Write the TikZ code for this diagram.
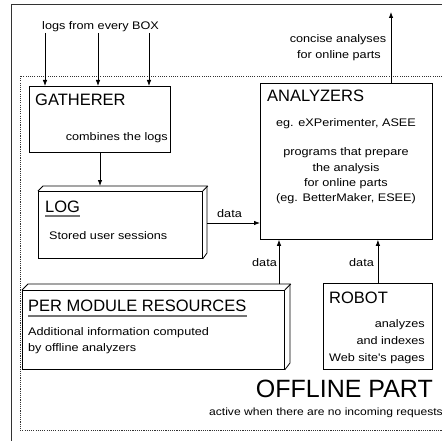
\documentclass[tikz,border=0pt]{standalone}
\usepackage{fontspec}
\setmainfont{Liberation Sans}
\newfontfamily\widesf[FakeStretch=1.15]{Liberation Sans}
\usetikzlibrary{arrows.meta}
\tikzset{
  box/.style={draw, line width=0.8pt, rectangle, anchor=north west, inner sep=0pt},
  small/.style={font=\widesf\fontsize{11}{14}\selectfont, inner sep=0pt},
  note/.style={font=\widesf\fontsize{10.5}{13}\selectfont, inner sep=0pt},
  title/.style={font=\fontsize{16.5}{18}\selectfont, inner sep=0pt},
  huge/.style={font=\fontsize{25}{28}\selectfont, inner sep=0pt},
  flow/.style={line width=0.8pt, -{Latex[length=6pt,width=4.5pt]}},
  uline/.style={draw=black!55, line width=1.2pt},
  frame/.style={draw=black!80, line width=0.9pt},
  zone/.style={draw=black!80, line width=0.9pt, dash pattern=on 1.1pt off 1.1pt},
}
\begin{document}
\begin{tikzpicture}[x=1pt, y=-1pt]
\useasboundingbox (0,0) rectangle (441,441);

% outer frame and offline zone
\draw[frame] (11,4) rectangle (480,480);
\draw[zone] (20,76) rectangle (480,430);

% boxes
\node[box, minimum width=141pt, minimum height=66pt] (gat) at (29,86) {};
\node[box, minimum width=164pt, minimum height=67pt] (log) at (38,191) {};
\node[box, minimum width=172pt, minimum height=156pt] (an) at (260,83) {};
\node[box, minimum width=262pt, minimum height=79pt] (per) at (22,290) {};
\node[box, minimum width=109pt, minimum height=86pt] (rob) at (323,283) {};

% depth faces of the storage boxes
\draw[line width=0.8pt] (log.north west) -- ++(5,-5) -- ++(164,0) -- ++(0,67) -- (log.south east);
\draw[line width=0.8pt] (log.north east) -- ++(5,-5);
\draw[line width=0.8pt] (per.north west) -- ++(6,-6) -- ++(262,0) -- ++(0,79) -- (per.south east);
\draw[line width=0.8pt] (per.north east) -- ++(6,-6);

% texts
\node[small, anchor=base west] (srcs) at (42,30) {logs from every BOX};
\node[title, anchor=base west] (gatT) at (35,106) {GATHERER};
\node[small, anchor=base east] (gatS) at (168,140) {combines the logs};

\node[title, anchor=base west] (logT) at (45,212) {LOG};
\draw[uline] ([yshift=-4pt]logT.base west) -- ([yshift=-4pt]logT.base east);
\node[small, anchor=base west] (logS) at (49,239) {Stored user sessions};

\node[title, anchor=base west] (anT) at (267,102) {ANALYZERS};
\node[small, anchor=base] (anS) at (346,126) {eg. eXPerimenter, ASEE};
\node[small, anchor=base] (anD1) at (346,155) {programs that prepare};
\node[small, anchor=base] (anD2) at (346,171) {the analysis};
\node[small, anchor=base] (anD3) at (346,186) {for online parts};
\node[small, anchor=base] (anD4) at (346,201.5) {(eg. BetterMaker, ESEE)};

\node[small, anchor=base] (out1) at (338,43) {concise analyses};
\node[small, anchor=base] (out2) at (339,59) {for online parts};

\node[title, anchor=base west] (perT) at (28,311) {PER MODULE RESOURCES};
\draw[uline] ([yshift=-5pt]perT.base west) -- ([yshift=-5pt]perT.base east);
\node[small, anchor=base west] (perS1) at (28,335) {Additional information computed};
\node[small, anchor=base west] (perS2) at (28,351.5) {by offline analyzers};

\node[title, anchor=base west] (robT) at (329,303) {ROBOT};
\node[small, anchor=base east] (rob1) at (425,327) {analyzes};
\node[small, anchor=base east] (rob2) at (425,344) {and indexes};
\node[small, anchor=base east] (rob3) at (425,361) {Web site's pages};

\node[huge, anchor=base east] (off) at (433,397) {OFFLINE PART};
\node[note, anchor=base west] (act) at (209,415) {active when there are no incoming requests};

\node[small, anchor=base west] (d1) at (217,217) {data};
\node[small, anchor=base west] (d2) at (252,266) {data};
\node[small, anchor=base west] (d3) at (349,266) {data};

% connectors
\coordinate (t1) at (45,33);
\coordinate (t2) at (98,33);
\coordinate (t3) at (149,33);
\draw[flow] (t1) -- (t1 |- gat.north);
\draw[flow] (t2) -- (t2 |- gat.north);
\draw[flow] (t3) -- (t3 |- gat.north);

\coordinate (logtop) at (100,186);
\draw[flow] (gat.south -| logtop) -- (logtop);

\coordinate (logR) at (207,223);
\draw[flow] (logR) -- (logR -| an.west);

\coordinate (up) at (391,12);
\draw[flow] (an.north -| up) -- (up);

\coordinate (pertop) at (279,284);
\draw[flow] (pertop) -- (pertop |- an.south);
\draw[flow] (rob.north) -- (rob.north |- an.south);
\end{tikzpicture}
\end{document}
